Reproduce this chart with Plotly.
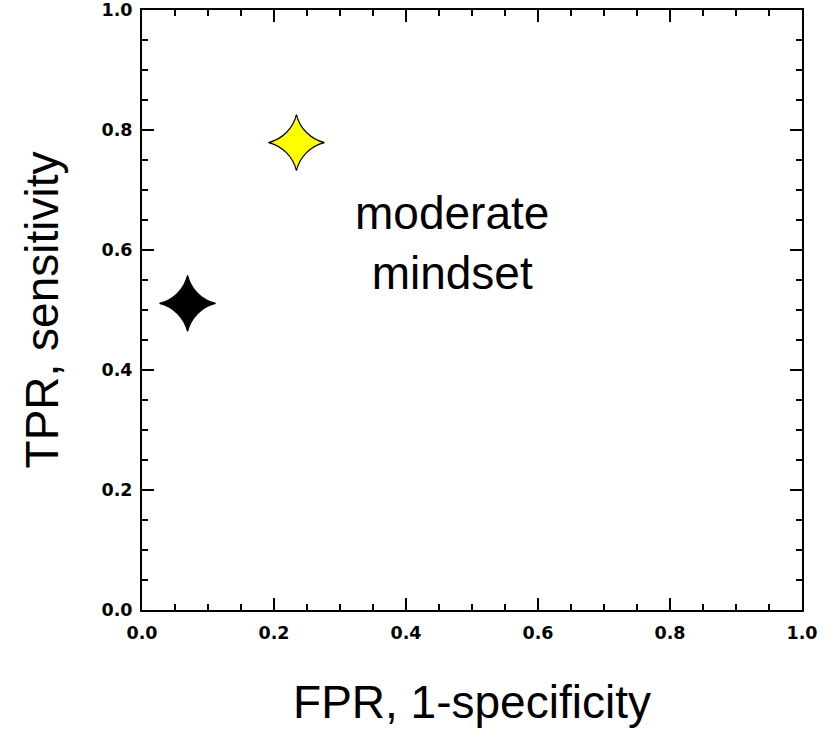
import plotly.graph_objects as go

# Data
fpr = [0.069, 0.234]
tpr = [0.511, 0.779]
colors = ["black", "yellow"]
xticks = [0.0, 0.2, 0.4, 0.6, 0.8, 1.0]
yticks = [0.0, 0.2, 0.4, 0.6, 0.8, 1.0]
tick_labels = ["0.0", "0.2", "0.4", "0.6", "0.8", "1.0"]
label_text = "moderate<br>mindset"

fig = go.Figure()
fig.add_trace(go.Scatter(
    x=fpr, y=tpr, mode="markers",
    marker=dict(symbol="star-diamond", size=40, color=colors,
                line=dict(color="black", width=1.2)),
    showlegend=False, hoverinfo="skip",
))

fig.add_annotation(x=0.47, y=0.612, xref="x", yref="y", text=label_text,
                   showarrow=False, align="center",
                   font=dict(family="Liberation Sans, Arial", size=46, color="black"))

axis_common = dict(
    range=[0, 1], showgrid=False, zeroline=False,
    showline=True, linecolor="black", linewidth=2, mirror="allticks",
    ticks="inside", ticklen=12, tickwidth=2, tickcolor="black",
    tickvals=xticks, ticktext=tick_labels, ticklabeloverflow="allow",
    tickfont=dict(family="DejaVu Sans", size=17.5, color="black", weight="bold"),
    minor=dict(dtick=0.05, ticks="inside", ticklen=6, tickwidth=2, tickcolor="black"),
)

fig.update_xaxes(**axis_common, ticklabelstandoff=6,
                 title=dict(text="FPR, 1-specificity", standoff=44,
                            font=dict(family="Liberation Sans, Arial", size=46, color="black")))
fig.update_yaxes(**axis_common, ticklabelstandoff=4,
                 title=dict(text="TPR, sensitivity", standoff=28,
                            font=dict(family="Liberation Sans, Arial", size=46, color="black")))

fig.update_layout(
    width=839, height=732,
    margin=dict(l=142, r=37, t=10, b=122, autoexpand=False),
    plot_bgcolor="white", paper_bgcolor="white",
)

fig.write_html("out.html")
